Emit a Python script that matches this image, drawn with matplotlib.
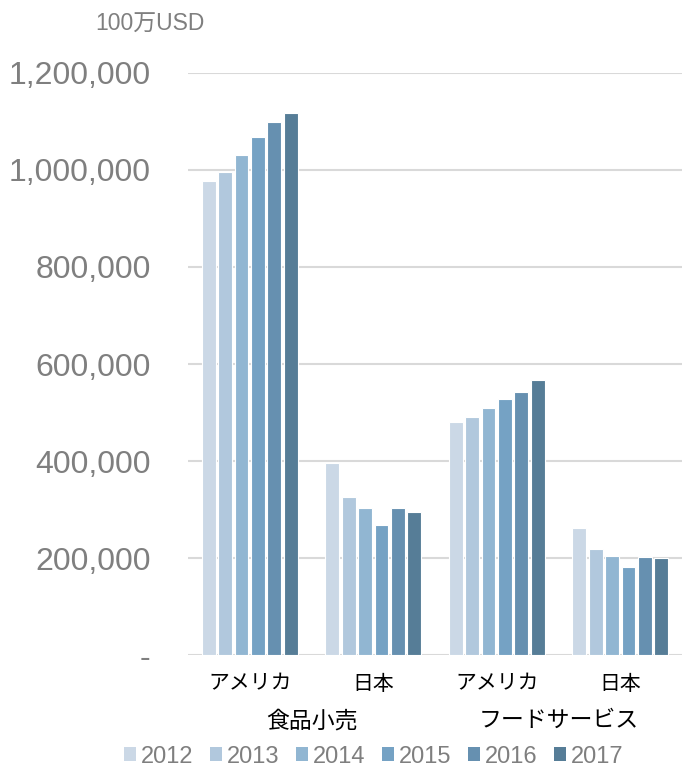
import matplotlib
matplotlib.use("Agg")
import matplotlib.pyplot as plt
import numpy as np
from matplotlib.patches import Patch

plt.rcParams['font.family'] = ['Liberation Sans', 'Noto Sans CJK JP', 'DejaVu Sans']

years = ['2012', '2013', '2014', '2015', '2016', '2017']
categories = ['アメリカ', '日本', 'アメリカ', '日本']
groups = ['食品小売', 'フードサービス']
values = {
    '2012': [977000, 395000, 480000, 262000],
    '2013': [995000, 325000, 491000, 218000],
    '2014': [1031000, 303000, 509000, 204000],
    '2015': [1067000, 269000, 527000, 181000],
    '2016': [1099000, 304000, 543000, 203000],
    '2017': [1117000, 295000, 568000, 201000],
}
colors = ['#CBD8E6', '#B1C8DD', '#91B6D2', '#75A2C4', '#6690B0', '#567D97']
yticks = [0, 200000, 400000, 600000, 800000, 1000000, 1200000]
ytick_labels = ['-', '200,000', '400,000', '600,000', '800,000', '1,000,000', '1,200,000']

fig = plt.figure(figsize=(6.82, 7.69), dpi=100)
ax = fig.add_axes([0.2757, 0.1482, 0.7243, 0.7569])

x = np.arange(len(categories))
pitch = 0.133
width = 0.112
for i, y in enumerate(years):
    ax.bar(x + (i - 2.5) * pitch, values[y], width=width, color=colors[i],
           edgecolor='white', linewidth=0.8, zorder=3)

ax.set_xlim(-0.5, 3.5)
ax.set_ylim(0, 1200000)
ax.set_yticks(yticks)
ax.set_yticklabels(ytick_labels, fontsize=23, color='#7F7F7F')
ax.tick_params(axis='y', length=0, pad=27)
ax.yaxis.grid(True, color='#D9D9D9', linewidth=1.5, zorder=0)
ax.set_xticks(x)
ax.set_xticklabels(categories, fontsize=15, color='black')
ax.tick_params(axis='x', length=0, pad=14)
for s in ax.spines.values():
    s.set_visible(False)

# group labels
for gi, g in enumerate(groups):
    cx = (x[2 * gi] + x[2 * gi + 1]) / 2
    ax.text(cx, -0.113, g, transform=ax.get_xaxis_transform(), ha='center', va='center',
            fontsize=16.5, color='black')

fig.text(0.22, 0.969, '100万USD', ha='center', va='center', fontsize=16.5, color='#7F7F7F')

handles = [Patch(facecolor=c, edgecolor='none') for c in colors]
leg = fig.legend(handles, years, loc='center', bbox_to_anchor=(0.548, 0.016), ncol=6,
                 frameon=False, fontsize=17, handlelength=0.52, handleheight=0.52,
                 handletextpad=0.22, columnspacing=0.68, labelcolor='#7F7F7F',
                 borderpad=0, borderaxespad=0)

fig.savefig('out.png', dpi=100)
